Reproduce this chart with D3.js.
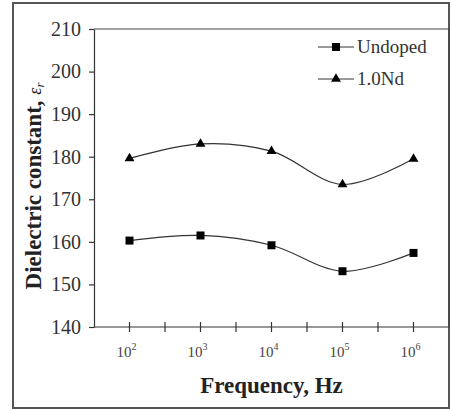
<!DOCTYPE html>
<html>
<head>
<meta charset="utf-8">
<script src="https://cdn.jsdelivr.net/npm/d3@7"></script>
<style>
  body { margin: 0; background: #fff; }
  text { font-family: "Liberation Serif", "Times New Roman", serif; }
</style>
</head>
<body>
<svg id="chart"></svg>
<script>
var W = 451, H = 410;
var margin = {top: 29, right: 2, bottom: 83, left: 94};

// frequency categories (exponent of 10)
var freqExp = [2, 3, 4, 5, 6];
var undoped = [160.3, 161.5, 159.2, 153.1, 157.4];
var nd10 = [179.6, 183.0, 181.3, 173.5, 179.5];
var yTicks = [140, 150, 160, 170, 180, 190, 200, 210];

var svg = d3.select("#chart")
  .attr("width", W)
  .attr("height", H);

svg.append("rect")
  .attr("width", W).attr("height", H)
  .attr("fill", "white");

// outer frame
svg.append("rect")
  .attr("x", 13).attr("y", 3)
  .attr("width", 436).attr("height", 405)
  .attr("fill", "none")
  .attr("stroke", "#555")
  .attr("stroke-width", 2);

var x = d3.scaleBand()
  .domain(freqExp)
  .range([margin.left, W - margin.right]);

var y = d3.scaleLinear()
  .domain([140, 210])
  .range([H - margin.bottom, margin.top]);

var cx = d => x(d) + x.bandwidth() / 2;

// plot frame top + right
svg.append("path")
  .attr("d", `M${margin.left},${margin.top}H${W - margin.right}V${H - margin.bottom}`)
  .attr("fill", "none")
  .attr("stroke", "#444")
  .attr("stroke-width", 1.2);

// y axis
var yAxis = svg.append("g")
  .attr("transform", `translate(${margin.left},0)`)
  .call(d3.axisLeft(y).tickValues(yTicks).tickSize(5).tickSizeOuter(0).tickPadding(8));
yAxis.attr("font-family", null);
yAxis.selectAll("path, line").attr("stroke", "#333").attr("stroke-width", 1.2);
yAxis.selectAll("text")
  .attr("font-size", "20px")
  .attr("fill", "#333");

// x axis line
var x0 = H - margin.bottom;
svg.append("line")
  .attr("x1", margin.left).attr("x2", W - margin.right)
  .attr("y1", x0).attr("y2", x0)
  .attr("stroke", "#333").attr("stroke-width", 1.2);

// x ticks: at centers and band edges, crossing axis
var tickPos = freqExp.map(cx).concat(freqExp.slice(1).map(d => x(d)));
svg.append("g").selectAll("line")
  .data(tickPos)
  .enter().append("line")
  .attr("x1", d => d).attr("x2", d => d)
  .attr("y1", x0 - 5).attr("y2", x0 + 5)
  .attr("stroke", "#333").attr("stroke-width", 1.2);

// x tick labels 10^n
var xl = svg.append("g").selectAll("text")
  .data(freqExp)
  .enter().append("text")
  .attr("x", d => cx(d) - 3)
  .attr("y", 357)
  .attr("text-anchor", "middle")
  .attr("font-size", "15px")
  .attr("fill", "#444");
xl.append("tspan").text("10");
xl.append("tspan").attr("dy", -7).attr("font-size", "10px").text(d => d);

// axis titles
svg.append("text")
  .attr("x", cx(4))
  .attr("y", 393)
  .attr("text-anchor", "middle")
  .attr("font-size", "23px")
  .attr("font-weight", "bold")
  .attr("fill", "#222")
  .text("Frequency, Hz");

var yt = svg.append("text")
  .attr("transform", `translate(41,${(margin.top + x0) / 2 + 8}) rotate(-90)`)
  .attr("text-anchor", "middle")
  .attr("font-size", "23px")
  .attr("fill", "#222");
yt.append("tspan").attr("font-weight", "bold").text("Dielectric constant, ");
yt.append("tspan").attr("font-style", "italic").attr("font-size", "18px").text("ε");
yt.append("tspan").attr("font-style", "italic").attr("font-size", "13px").attr("dy", 3).text("r");

// lines
var line = d3.line()
  .x((d, i) => cx(freqExp[i]))
  .y(d => y(d))
  .curve(d3.curveCatmullRom.alpha(0.5));

[undoped, nd10].forEach(s => {
  svg.append("path")
    .datum(s)
    .attr("fill", "none")
    .attr("stroke", "#333")
    .attr("stroke-width", 1.2)
    .attr("d", line);
});

var sq = d3.symbol().type(d3.symbolSquare).size(64);
var tri = d3.symbol().type(d3.symbolTriangle).size(42);

svg.append("g").selectAll("path")
  .data(undoped)
  .enter().append("path")
  .attr("d", sq)
  .attr("transform", (d, i) => `translate(${cx(freqExp[i])},${y(d)})`)
  .attr("fill", "#000");

svg.append("g").selectAll("path")
  .data(nd10)
  .enter().append("path")
  .attr("d", tri)
  .attr("transform", (d, i) => `translate(${cx(freqExp[i])},${y(d)})`)
  .attr("fill", "#000");

// legend
var legend = [
  {name: "Undoped", sym: sq, y: 47},
  {name: "1.0Nd", sym: tri, y: 79}
];
var lg = svg.append("g").selectAll("g")
  .data(legend)
  .enter().append("g");
lg.append("line")
  .attr("x1", 318).attr("x2", 354)
  .attr("y1", d => d.y).attr("y2", d => d.y)
  .attr("stroke", "#333").attr("stroke-width", 1.2);
lg.append("path")
  .attr("d", d => d.sym())
  .attr("transform", d => `translate(336,${d.y})`)
  .attr("fill", "#000");
lg.append("text")
  .attr("x", 357)
  .attr("y", d => d.y + 6)
  .attr("font-size", "19px")
  .attr("fill", "#333")
  .text(d => d.name);
</script>
</body>
</html>
